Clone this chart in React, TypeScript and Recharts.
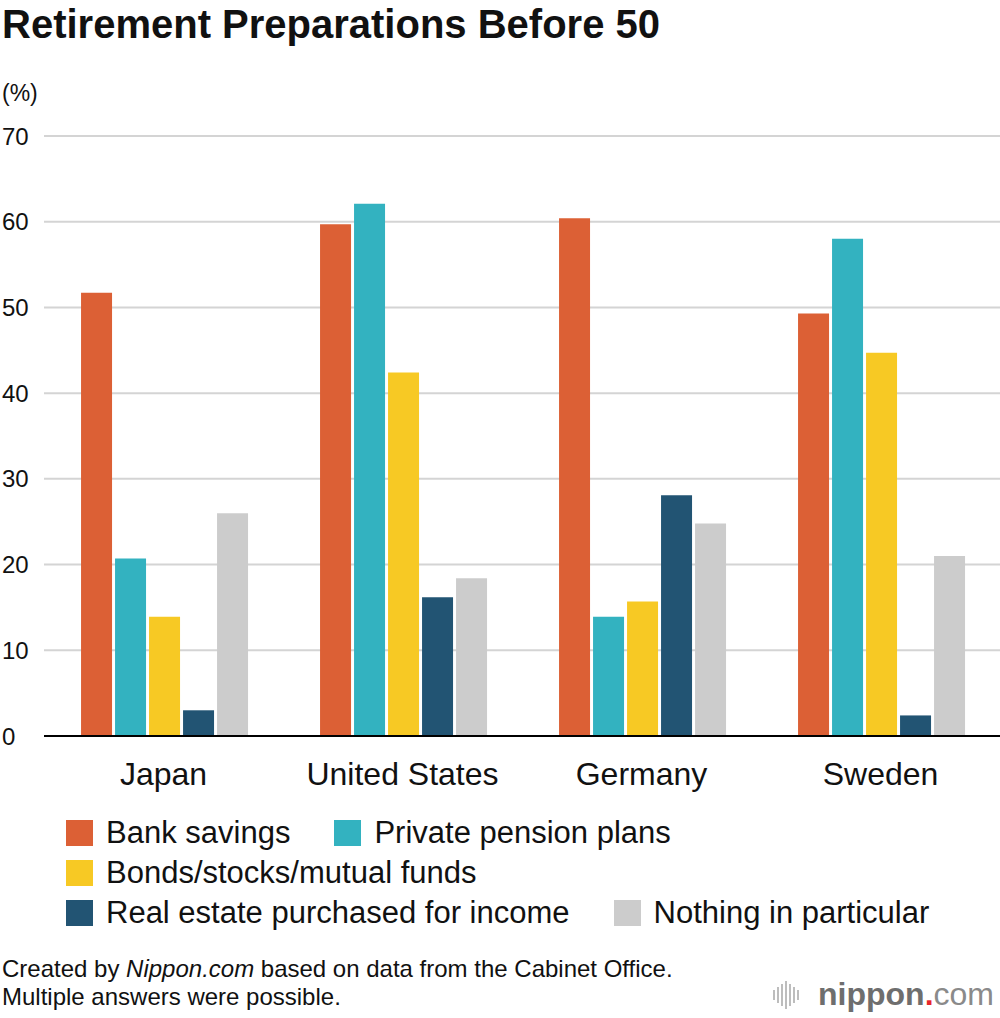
import { BarChart, Bar, XAxis, YAxis, CartesianGrid } from 'recharts';

const countries = ['Japan', 'United States', 'Germany', 'Sweden'];
const bankSavings = [51.7, 59.7, 60.4, 49.3];
const pensionPlans = [20.7, 62.1, 13.9, 58.0];
const bondsStocks = [13.9, 42.4, 15.7, 44.7];
const realEstate = [3.0, 16.2, 28.1, 2.4];
const nothingInParticular = [26.0, 18.4, 24.8, 21.0];
const yTicks = [0, 10, 20, 30, 40, 50, 60, 70];

const series = [
  { key: 'bank', name: 'Bank savings', color: '#dc6035', values: bankSavings },
  { key: 'pension', name: 'Private pension plans', color: '#33b2c0', values: pensionPlans },
  { key: 'bonds', name: 'Bonds/stocks/mutual funds', color: '#f7c924', values: bondsStocks },
  { key: 'realEstate', name: 'Real estate purchased for income', color: '#225473', values: realEstate },
  { key: 'nothing', name: 'Nothing in particular', color: '#cccccc', values: nothingInParticular },
];

// which legend entries sit on each line
const legendRows = [[0, 1], [2], [3, 4]];

const chartData = countries.map((c, i) => {
  const row: Record<string, string | number> = { country: c };
  series.forEach((s) => {
    row[s.key] = s.values[i];
  });
  return row;
});

const FONT = '"Liberation Sans", Arial, Helvetica, sans-serif';

function YTick(props: any) {
  const { y, payload } = props;
  return (
    <text x={2} y={y} dy="0.36em" textAnchor="start" fontSize={24} fill="#111" fontFamily={FONT}>
      {payload.value}
    </text>
  );
}

function XTick(props: any) {
  const { x, y, payload } = props;
  return (
    <text x={x} y={y} dy={41} textAnchor="middle" fontSize={32} fill="#111" fontFamily={FONT}>
      {payload.value}
    </text>
  );
}

function Logo() {
  const bars = [10, 16, 22, 28, 22, 16, 10];
  return (
    <svg width={240} height={40} style={{ position: 'absolute', left: 760, top: 975 }}>
      {bars.map((h, i) => (
        <rect key={i} x={13 + i * 4} y={20 - h / 2} width={2} height={h} fill="#bdbdbd" />
      ))}
      <text x={58} y={30} fontSize={32} fontWeight={700} fill="#6e6e6e" fontFamily={FONT}>
        nippon
        <tspan fill="#e8262b">.</tspan>
        <tspan fontWeight={300} fill="#8a8a8a">com</tspan>
      </text>
    </svg>
  );
}

export default function App() {
  return (
    <div
      style={{
        position: 'absolute',
        left: 0,
        top: 0,
        width: 1000,
        height: 1018,
        background: '#fff',
        fontFamily: FONT,
        color: '#111',
        overflow: 'hidden',
      }}
    >
      <div style={{ position: 'absolute', left: 2, top: 0, fontSize: 40, fontWeight: 700, lineHeight: '48px', whiteSpace: 'nowrap' }}>
        Retirement Preparations Before 50
      </div>
      <div style={{ position: 'absolute', left: 2, top: 80, fontSize: 23, lineHeight: '26px' }}>(%)</div>

      <div style={{ position: 'absolute', left: 0, top: 0 }}>
        <BarChart
          width={1000}
          height={800}
          data={chartData}
          margin={{ top: 136, right: 0, left: 0, bottom: 0 }}
          barCategoryGap="15.5%"
          barGap={3}
        >
          <CartesianGrid vertical={false} stroke="#d4d4d4" strokeWidth={2} />
          <XAxis
            dataKey="country"
            height={64}
            tick={<XTick />}
            tickLine={false}
            axisLine={{ stroke: '#000', strokeWidth: 2 }}
            interval={0}
          />
          <YAxis
            width={44}
            domain={[0, 70]}
            ticks={yTicks}
            tick={<YTick />}
            axisLine={false}
            tickLine={false}
            interval={0}
          />
          {series.map((s) => (
            <Bar key={s.key} dataKey={s.key} name={s.name} fill={s.color} isAnimationActive={false} />
          ))}
        </BarChart>
      </div>

      {legendRows.map((row, r) => (
        <div
          key={r}
          style={{ position: 'absolute', left: 66, top: 820 + r * 40, display: 'flex', gap: 44, alignItems: 'center' }}
        >
          {row.map((idx) => (
            <div key={idx} style={{ display: 'flex', alignItems: 'center', whiteSpace: 'nowrap' }}>
              <span style={{ width: 27, height: 26, background: series[idx].color, display: 'inline-block', marginRight: 13 }} />
              <span style={{ fontSize: 31, lineHeight: '26px' }}>{series[idx].name}</span>
            </div>
          ))}
        </div>
      ))}

      <div style={{ position: 'absolute', left: 2, top: 955, fontSize: 24, lineHeight: '28px', whiteSpace: 'nowrap' }}>
        <div>
          Created by <i>Nippon.com</i> based on data from the Cabinet Office.
        </div>
        <div>Multiple answers were possible.</div>
      </div>

      <Logo />
    </div>
  );
}
